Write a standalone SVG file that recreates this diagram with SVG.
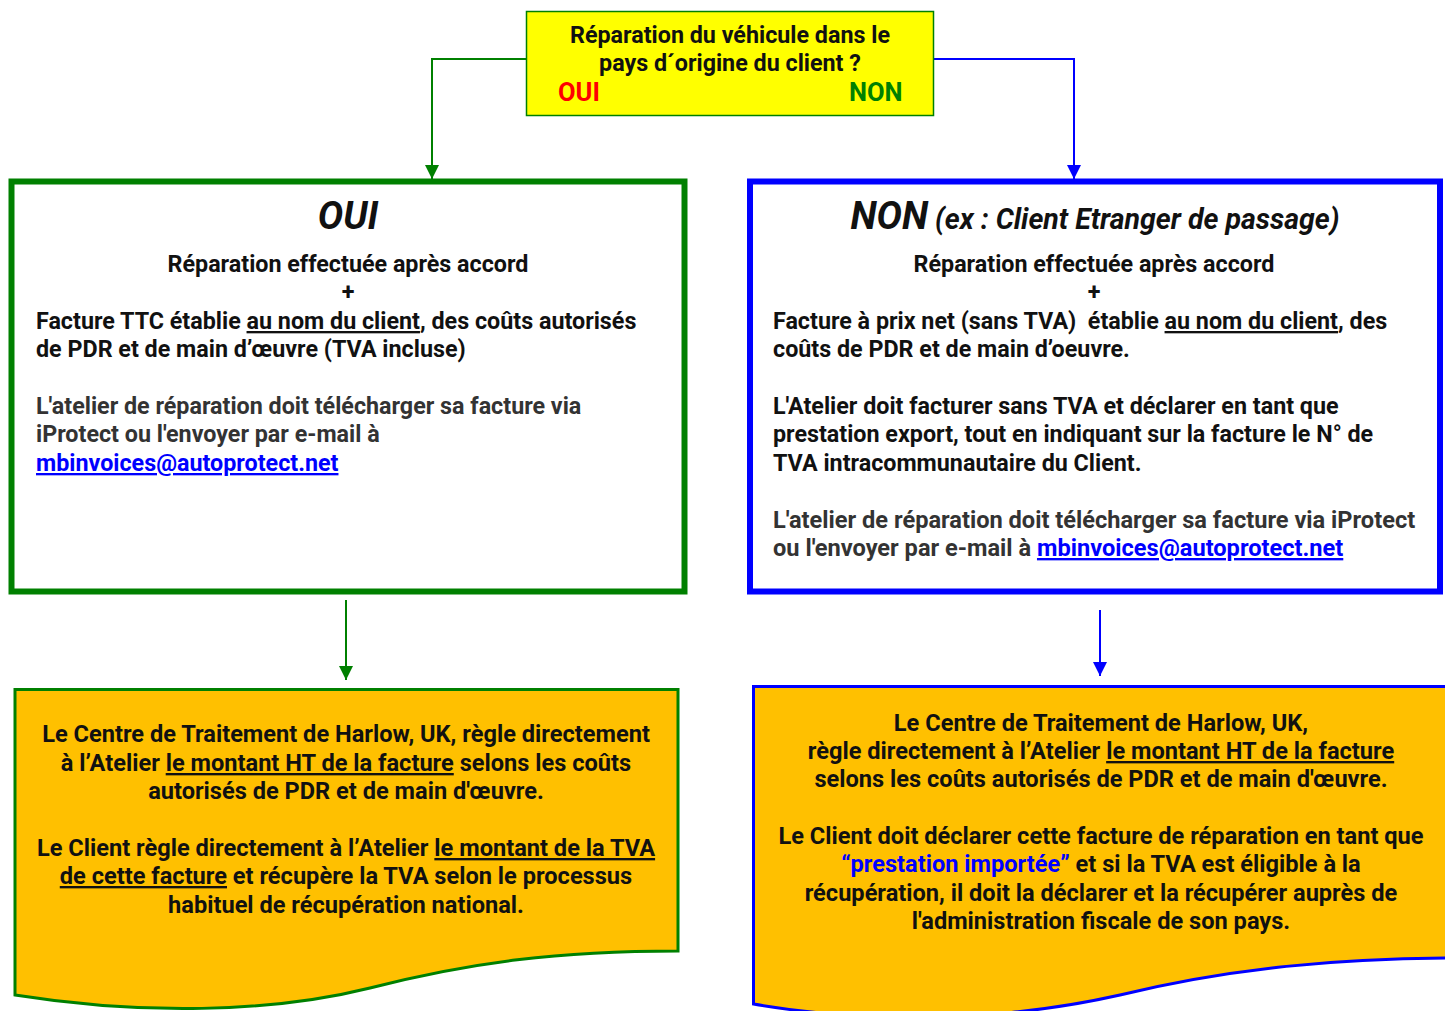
<svg xmlns="http://www.w3.org/2000/svg" width="1445" height="1011" viewBox="0 0 1445 1011">
<defs>
<marker id="ag" markerUnits="userSpaceOnUse" markerWidth="16" markerHeight="16" refX="14" refY="7" orient="auto"><path d="M0,0 L14,7 L0,14 Z" fill="#008000"/></marker>
<marker id="ab" markerUnits="userSpaceOnUse" markerWidth="16" markerHeight="16" refX="14" refY="7" orient="auto"><path d="M0,0 L14,7 L0,14 Z" fill="#0000FF"/></marker>
</defs>
<style>
text{font-family:Roboto,"Liberation Sans",sans-serif;font-weight:bold;font-size:23.3px;fill:#111}
.c{text-anchor:middle}
.g{fill:#333}
.u{text-decoration:underline}
.l{fill:#0000FF;text-decoration:underline}
.t{font-style:italic;font-size:38px}
.s{font-style:italic;font-size:28.5px}
.b{font-size:23.6px}
</style>
<rect width="1445" height="1011" fill="#fff"/>
<g id="connectors" fill="none" stroke-width="2">
<path d="M526,59 H432 V179" stroke="#008000" marker-end="url(#ag)"/>
<path d="M934,59 H1074 V179" stroke="#0000FF" marker-end="url(#ab)"/>
<path d="M346,600 V680" stroke="#008000" marker-end="url(#ag)"/>
<path d="M1100,610 V676" stroke="#0000FF" marker-end="url(#ab)"/>
</g>
<g id="question">
<rect x="526.5" y="11.5" width="407" height="104" fill="#FFFF00" stroke="#008000" stroke-width="1.5"/>
<text class="c" x="730" y="43">Réparation du véhicule dans le</text>
<text class="c" x="730" y="71">pays d´origine du client ?</text>
<text x="558" y="101" style="fill:#FF0000;font-size:25.5px">OUI</text>
<text x="849" y="101" style="fill:#008000;font-size:25.5px">NON</text>
</g>
<g id="oui">
<rect x="11.5" y="181.5" width="673" height="410" fill="#fff" stroke="#008000" stroke-width="6"/>
<text class="c t" x="348" y="229">OUI</text>
<text class="c" x="348" y="272">Réparation effectuée après accord</text>
<text class="c" x="348" y="300">+</text>
<text x="36" y="329">Facture TTC établie <tspan class="u">au nom du client</tspan>, des coûts autorisés</text>
<text x="36" y="357">de PDR et de main d’œuvre (TVA incluse)</text>
<text class="g" x="36" y="414">L'atelier de réparation doit télécharger sa facture via</text>
<text class="g" x="36" y="442">iProtect ou l'envoyer par e-mail à</text>
<text class="l" x="36" y="471">mbinvoices@autoprotect.net</text>
</g>
<g id="non">
<rect x="750" y="181.5" width="690" height="410" fill="#fff" stroke="#0000FF" stroke-width="6"/>
<text class="c" x="1095" y="229"><tspan class="t">NON</tspan><tspan class="s"> (ex : Client Etranger de passage)</tspan></text>
<text class="c" x="1094" y="272">Réparation effectuée après accord</text>
<text class="c" x="1094" y="300">+</text>
<text x="773" y="329" xml:space="preserve">Facture à prix net (sans TVA)  établie <tspan class="u">au nom du client</tspan>, des</text>
<text x="773" y="357">coûts de PDR et de main d’oeuvre.</text>
<text x="773" y="414">L'Atelier doit facturer sans TVA et déclarer en tant que</text>
<text x="773" y="442">prestation export, tout en indiquant sur la facture le N° de</text>
<text x="773" y="471">TVA intracommunautaire du Client.</text>
<text class="g b" x="773" y="528">L'atelier de réparation doit télécharger sa facture via iProtect</text>
<text class="g b" x="773" y="556">ou l'envoyer par e-mail à <tspan class="l">mbinvoices@autoprotect.net</tspan></text>
</g>
<g id="oui-result">
<path d="M15,689.5 H678 V951 C560,951 470,962 370,988 C270,1013 140,1015 15,995 Z" fill="#FFC000" stroke="#008000" stroke-width="3"/>
<text class="c b" x="346" y="742">Le Centre de Traitement de Harlow, UK, règle directement</text>
<text class="c b" x="346" y="771">à l’Atelier <tspan class="u">le montant HT de la facture</tspan> selons les coûts</text>
<text class="c b" x="346" y="799">autorisés de PDR et de main d'œuvre.</text>
<text class="c b" x="346" y="856">Le Client règle directement à l’Atelier <tspan class="u">le montant de la TVA</tspan></text>
<text class="c b" x="346" y="884"><tspan class="u">de cette facture</tspan> et récupère la TVA selon le processus</text>
<text class="c b" x="346" y="913">habituel de récupération national.</text>
</g>
<g id="non-result">
<path d="M753.5,686.5 H1460 V958 C1340,958 1230,968 1120,995 C1000,1022 870,1024 753.5,1004 Z" fill="#FFC000" stroke="#0000FF" stroke-width="3"/>
<text class="c b" x="1101" y="731">Le Centre de Traitement de Harlow, UK,</text>
<text class="c b" x="1101" y="759">règle directement à l’Atelier <tspan class="u">le montant HT de la facture</tspan></text>
<text class="c b" x="1101" y="787">selons les coûts autorisés de PDR et de main d'œuvre.</text>
<text class="c b" x="1101" y="844">Le Client doit déclarer cette facture de réparation en tant que</text>
<text class="c b" x="1101" y="872"><tspan style="fill:#0000FF">“prestation importée”</tspan> et si la TVA est éligible à la</text>
<text class="c b" x="1101" y="901">récupération, il doit la déclarer et la récupérer auprès de</text>
<text class="c b" x="1101" y="929">l'administration fiscale de son pays.</text>
</g>
</svg>
